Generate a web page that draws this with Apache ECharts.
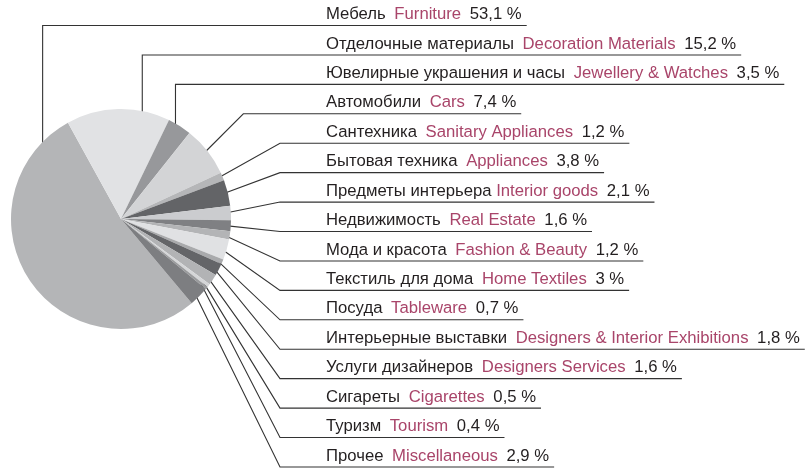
<!DOCTYPE html>
<html><head><meta charset="utf-8">
<script src="https://cdn.jsdelivr.net/npm/echarts@6/dist/echarts.min.js"></script>
<style>html,body{margin:0;padding:0;background:#fff}#c{width:805px;height:469px}</style>
</head><body><div id="c"></div>
<script>
const namesRu = ['Мебель','Отделочные материалы','Ювелирные украшения и часы','Автомобили','Сантехника','Бытовая техника','Предметы интерьера','Недвижимость','Мода и красота','Текстиль для дома','Посуда','Интерьерные выставки','Услуги дизайнеров','Сигареты','Туризм','Прочее'];
const namesEn = ['Furniture','Decoration Materials','Jewellery & Watches','Cars','Sanitary Appliances','Appliances','Interior goods','Real Estate','Fashion & Beauty','Home Textiles','Tableware','Designers & Interior Exhibitions','Designers Services','Cigarettes','Tourism','Miscellaneous'];
const values = [53.1, 15.2, 3.5, 7.4, 1.2, 3.8, 2.1, 1.6, 1.2, 3, 0.7, 1.8, 1.6, 0.5, 0.4, 2.9];
const colors = ['#b4b5b7','#e1e2e4','#97989b','#d3d4d6','#b5b6b8','#636467','#cbcccf','#7f8083','#b3b4b6','#e0e1e3','#a9aaac','#646568','#b2b3b5','#d5d6d8','#9a9b9d','#7d7e81'];

const CX = 121, CY = 219, R = 110;
const ROW0 = 25.5, ROWH = 29.43, TEXTX = 326;
const anchorAngle = {0: 140, 1: 78};
function fmt(v){ return String(v).replace('.', ',') + ' %'; }

const chart = echarts.init(document.getElementById('c'), null, {renderer: 'canvas'});
const FONT = 'Liberation Sans', FS = 16.7;
const option = {
  animation: false,
  series: [{
    type: 'pie',
    center: [CX, CY],
    radius: R,
    startAngle: 310,
    clockwise: true,
    avoidLabelOverlap: false,
    data: values.map((v, i) => ({value: v, name: namesEn[i], itemStyle: {color: colors[i]}})),
    label: {
      show: true,
      position: 'outside',
      fontFamily: FONT,
      fontSize: FS,
      formatter: p => '{ru|' + namesRu[p.dataIndex] + '}' + (p.dataIndex === 6 ? '{s1| }' : '{sp| }') + '{en|' + namesEn[p.dataIndex] + '}{sp| }{pc|' + fmt(p.value) + '}',
      rich: {
        ru: {color: '#231f20', fontFamily: FONT, fontSize: FS},
        en: {color: '#a9456a', fontFamily: FONT, fontSize: FS},
        pc: {color: '#231f20', fontFamily: FONT, fontSize: FS},
        sp: {fontFamily: FONT, fontSize: FS, padding: [0, 2, 0, 2]},
        s1: {fontFamily: FONT, fontSize: FS}
      }
    },
    labelLine: {show: true, length: 10, length2: 10, smooth: false, lineStyle: {color: '#333', width: 1.1}},
    labelLayout: function (p) {
      const i = p.dataIndex;
      const uy = ROW0 + i * ROWH;
      let ax, ay;
      if (anchorAngle[i] !== undefined) {
        const a = anchorAngle[i] * Math.PI / 180;
        ax = CX + R * 0.93 * Math.cos(a);
        ay = CY - R * 0.93 * Math.sin(a);
      } else {
        const e = p.labelLinePoints[0];
        ax = CX + (e[0] - CX) * 0.93;
        ay = CY + (e[1] - CY) * 0.93;
      }
      let cx;
      if (i < 3) cx = ax; else if (i === 3) cx = ax + (ay - uy); else cx = 280;
      const endX = TEXTX + p.labelRect.width + 5;
      return {
        x: TEXTX, y: uy - 11, align: 'left', verticalAlign: 'middle',
        labelLinePoints: [[ax, ay], [cx, uy], [endX, uy]]
      };
    }
  }]
};
chart.setOption(option);
</script></body></html>
